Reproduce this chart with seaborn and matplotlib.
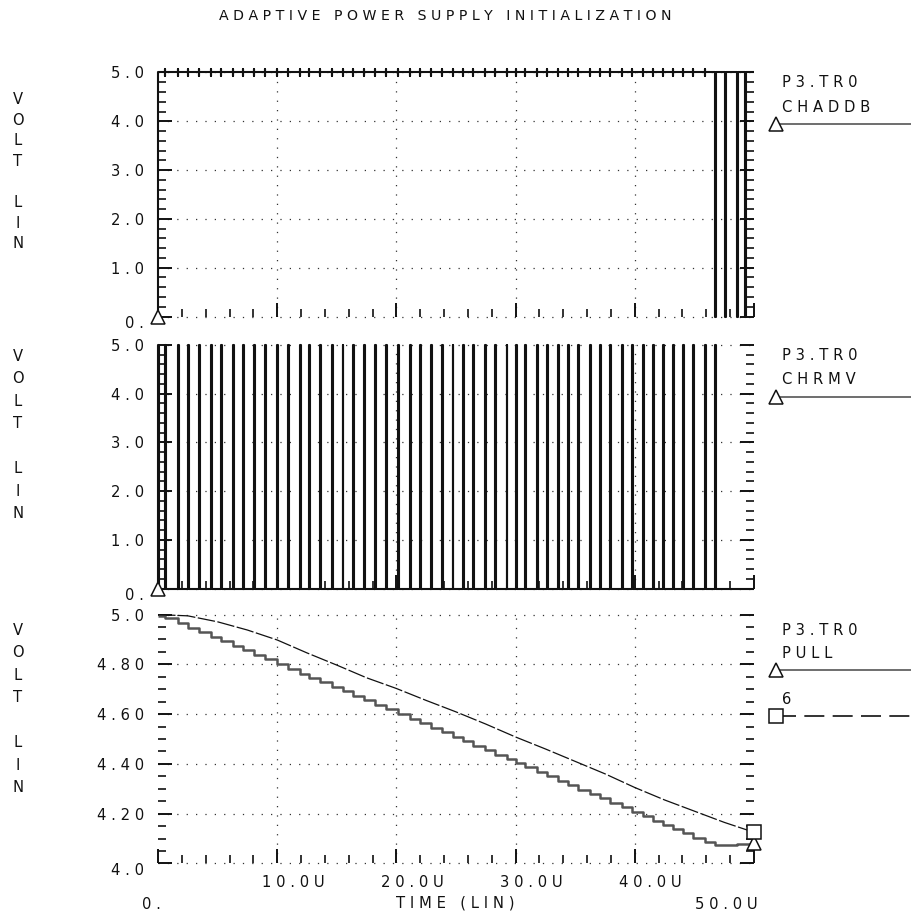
import matplotlib
matplotlib.use("Agg")
import matplotlib.pyplot as plt
import matplotlib.transforms as mtransforms
from matplotlib.lines import Line2D
from matplotlib.ticker import MultipleLocator, FixedLocator
import pandas as pd
import seaborn as sns

# ---------------------------------------------------------------- data
TITLE = "ADAPTIVE POWER SUPPLY INITIALIZATION"
X_LABEL = "TIME (LIN)"
Y_LABEL = "VOLT LIN"
T_START, T_END = 0.0, 50.0          # microseconds
V_HIGH = 5.0

# CHRMV: narrow pulses 0 -> 5 V (instants in us)
chrmv_pulse_t = [0.0, 0.61, 1.65, 2.54, 3.46, 4.45, 5.29, 6.27, 7.16, 8.08, 8.98,
                 9.96, 10.93, 11.91, 12.69, 13.59, 14.57, 15.49, 16.38, 17.31,
                 18.20, 19.13, 20.16, 21.14, 21.98, 22.90, 23.80, 24.72, 25.61,
                 26.45, 27.43, 28.27, 29.25, 30.03, 30.79, 31.77, 32.61, 33.58,
                 34.42, 35.26, 36.24, 37.08, 37.92, 38.90, 39.74, 40.71, 41.55,
                 42.39, 43.23, 44.07, 44.91, 45.89, 46.73]

# CHADDB: sits high with small glitches, then drops to 0 V a few times
chaddb_glitch_t = [0.61, 1.65, 2.54, 3.46, 4.45, 5.29, 6.27, 7.16, 8.08, 8.98,
                   9.96, 10.93, 11.91, 12.69, 13.59, 14.57, 15.49, 16.38, 17.31,
                   18.20, 19.13, 20.16, 21.14, 21.98, 22.90, 23.80, 24.72, 25.61,
                   26.45, 27.43, 28.27, 29.25, 30.03, 30.79, 31.77, 32.61, 33.58,
                   34.42, 35.26, 36.24, 37.08, 37.92, 38.90, 39.74, 40.71, 41.55,
                   42.39, 43.23, 44.07, 44.91, 45.89]
chaddb_drop_t = [46.73, 47.57, 48.55, 49.24]

# PULL: staircase, one step per CHRMV pulse
pull_t = [0.0, 0.61, 1.65, 2.54, 3.46, 4.45, 5.29, 6.27, 7.16, 8.08, 8.98,
          9.96, 10.93, 11.91, 12.69, 13.59, 14.57, 15.49, 16.38, 17.31,
          18.20, 19.13, 20.16, 21.14, 21.98, 22.90, 23.80, 24.72, 25.61,
          26.45, 27.43, 28.27, 29.25, 30.03, 30.79, 31.77, 32.61, 33.58,
          34.42, 35.26, 36.24, 37.08, 37.92, 38.90, 39.74, 40.71, 41.55,
          42.39, 43.23, 44.07, 44.91, 45.89, 46.73, 48.55, 50.0]
pull_v = [4.995, 4.985, 4.965, 4.948, 4.930, 4.910, 4.893, 4.874, 4.856, 4.838,
          4.820, 4.800, 4.782, 4.763, 4.747, 4.729, 4.710, 4.692, 4.674, 4.656,
          4.638, 4.620, 4.600, 4.580, 4.563, 4.545, 4.527, 4.508, 4.490, 4.473,
          4.454, 4.437, 4.418, 4.402, 4.386, 4.367, 4.350, 4.331, 4.314, 4.297,
          4.278, 4.261, 4.244, 4.225, 4.208, 4.189, 4.172, 4.155, 4.138, 4.121,
          4.104, 4.085, 4.074, 4.079, 4.080]

# node 6: smooth discharge
node6_t = [0.0, 2.5, 5.0, 7.5, 10.0, 12.5, 15.0, 17.5, 20.0, 22.5, 25.0,
           27.5, 30.0, 32.5, 35.0, 37.5, 40.0, 42.5, 45.0, 47.5, 50.0]
node6_v = [5.000, 4.995, 4.971, 4.938, 4.898, 4.846, 4.797, 4.746, 4.703,
           4.655, 4.609, 4.560, 4.508, 4.460, 4.410, 4.360, 4.305, 4.255,
           4.210, 4.165, 4.125]

volt_ticks = [0, 1, 2, 3, 4, 5]
volt_labels = ["0.", "1.0", "2.0", "3.0", "4.0", "5.0"]
pull_ticks = [4.0, 4.2, 4.4, 4.6, 4.8, 5.0]
pull_labels = ["4.0", "4.20", "4.40", "4.60", "4.80", "5.0"]
time_ticks = [0, 10, 20, 30, 40, 50]
time_labels = ["0.", "10.0U", "20.0U", "30.0U", "40.0U", "50.0U"]

legend_top = ["P3.TR0", "CHADDB"]
legend_mid = ["P3.TR0", "CHRMV"]
legend_bot = ["P3.TR0", "PULL"]
legend_node = "6"

# ---------------------------------------------------------------- style
sns.set_theme(style="white")
plt.rcParams["font.family"] = ["DejaVu Sans"]
plt.rcParams["lines.solid_capstyle"] = "butt"

W, H = 911, 919
fig = plt.figure(figsize=(W / 100, H / 100), dpi=100)
FS = 10.6
INK = "#111111"
TRACE_GREY = "#555555"


def spaced(s):
    return " ".join(s)


def fx(x):
    return x / W


def fy(y):
    return 1 - y / H


def px_shift(dx, dy):
    return mtransforms.ScaledTranslation(dx / 100, -dy / 100, fig.dpi_scale_trans)


def axes_px(x0, y0, x1, y1):
    return fig.add_axes([fx(x0), fy(y1), fx(x1) - fx(x0), fy(y0) - fy(y1)])


ax1 = axes_px(158, 72.5, 754, 316.5)
ax2 = axes_px(158, 345, 754, 588.5)
ax3 = axes_px(158, 614.6, 754, 863.4)


def frame(ax, ymin, ymax, minor, ticks, labels):
    ax.set_xlim(T_START, T_END)
    ax.set_ylim(ymin, ymax)
    for s in ax.spines.values():
        s.set_visible(False)
    ax.set_facecolor("none")
    ax.xaxis.set_major_locator(FixedLocator(time_ticks))
    ax.xaxis.set_minor_locator(MultipleLocator(2))
    ax.yaxis.set_major_locator(FixedLocator(ticks))
    ax.yaxis.set_minor_locator(MultipleLocator(minor))
    ax.set_yticklabels([spaced(l) for l in labels])
    ax.set_xticklabels([])
    ax.tick_params(which="both", direction="in", left=True, right=True,
                   bottom=True, top=False, labelleft=True, labelright=False,
                   color=INK, labelsize=FS, labelcolor=INK)
    ax.tick_params(which="major", length=10, width=1.4, pad=10)
    ax.tick_params(which="minor", length=6, width=1.2)
    for tl in ax.yaxis.get_majorticklines() + ax.yaxis.get_minorticklines() + \
            ax.xaxis.get_majorticklines() + ax.xaxis.get_minorticklines():
        tl.set_clip_on(False)
    # dotted grid
    for v in ticks:
        ax.axhline(v, color="#333333", lw=0.9, dashes=(1.0, 6.5), clip_on=False, zorder=0)
    for t in time_ticks[1:-1]:
        ax.axvline(t, color="#333333", lw=0.9, dashes=(1.0, 6.5), zorder=0)
    # bottom label sits a little lower
    lab = ax.get_yticklabels()[0]
    lab.set_transform(lab.get_transform() + px_shift(0, 6))


frame(ax1, 0, V_HIGH, 0.2, volt_ticks, volt_labels)
frame(ax2, 0, V_HIGH, 0.2, volt_ticks, volt_labels)
frame(ax3, 4.0, V_HIGH, 0.05, pull_ticks, pull_labels)

pw = 0.07   # width of the narrow pulses, us

# ---------------------------------------------------------------- waveforms
# CHADDB
xs, ys = [T_START, T_START], [0.0, V_HIGH]
for t in chaddb_glitch_t:
    xs += [t, t, t, t]
    ys += [V_HIGH, V_HIGH + 0.07, V_HIGH - 0.07, V_HIGH]
for t in chaddb_drop_t:
    xs += [t, t, t + pw, t + pw]
    ys += [V_HIGH, 0.0, 0.0, V_HIGH]
xs.append(T_END)
ys.append(V_HIGH)
chaddb = pd.DataFrame({"t": xs, "v": ys})
sns.lineplot(data=chaddb, x="t", y="v", ax=ax1, estimator=None, sort=False,
             color=INK, lw=1.5, clip_on=False)

# CHRMV
xs, ys = [], []
for t in chrmv_pulse_t:
    xs += [t, t, t + pw, t + pw]
    ys += [0.0, V_HIGH, V_HIGH, 0.0]
xs.append(T_END)
ys.append(0.0)
chrmv = pd.DataFrame({"t": xs, "v": ys})
sns.lineplot(data=chrmv, x="t", y="v", ax=ax2, estimator=None, sort=False,
             color=INK, lw=1.5, clip_on=False)

# PULL staircase and node 6
pull = pd.DataFrame({"t": pull_t, "v": pull_v})
sns.lineplot(data=pull, x="t", y="v", ax=ax3, estimator=None, sort=False,
             color=TRACE_GREY, lw=1.8, drawstyle="steps-post", clip_on=False)
node6 = pd.DataFrame({"t": node6_t, "v": node6_v})
sns.lineplot(data=node6, x="t", y="v", ax=ax3, estimator=None, sort=False,
             color=INK, lw=0.9, clip_on=False)
ax3.lines[-1].set_dashes((14, 2.0))

# trace markers
mk = dict(ms=10, mfc="white", mec=INK, mew=1.1, clip_on=False, zorder=6, ls="none")
ax1.plot([chaddb["t"].iloc[0]], [chaddb["v"].iloc[0]], marker="^", **mk)
ax2.plot([chrmv["t"].iloc[0]], [chrmv["v"].iloc[0]], marker="^", **mk)
ax3.plot([pull_t[-1]], [pull_v[-1]], marker="^", **mk)
ax3.plot([node6_t[-1]], [node6_v[-1]], marker="s", **mk)

for ax in (ax1, ax2, ax3):
    ax.set_xlabel("")
    ax.set_ylabel("")

# ---------------------------------------------------------------- time axis labels
ax3.set_xticklabels([spaced(l) for l in time_labels])
ax3.tick_params(axis="x", which="major", pad=8)
last = len(time_labels) - 1
for i, lab in enumerate(ax3.get_xticklabels()):
    if i == 0:
        off = px_shift(-7, 22)
    elif i == last:
        off = px_shift(-28, 22)
    else:
        off = px_shift(16, 0)
    lab.set_transform(lab.get_transform() + off)
fig.text(fx(455), fy(903), spaced(X_LABEL), ha="center", va="center",
         fontsize=FS, color=INK)

# ---------------------------------------------------------------- title, axis names
fig.text(fx(445), fy(16), spaced(TITLE), ha="center", va="center",
         fontsize=FS - 0.4, color=INK)
for ytop, ls in ((92, 1.47), (349, 1.62), (623, 1.62)):
    fig.text(fx(18), fy(ytop), "\n".join(Y_LABEL), ha="center", va="top",
             fontsize=FS, color=INK, linespacing=ls)


# ---------------------------------------------------------------- trace legends
def legend_line(y, marker, dashed=False, color=INK):
    ln = Line2D([fx(776), fx(911)], [fy(y), fy(y)], transform=fig.transFigure,
                color=color, lw=1.2)
    if dashed:
        ln.set_dashes((12, 5))
    fig.add_artist(ln)
    fig.add_artist(Line2D([fx(776)], [fy(y)], transform=fig.transFigure,
                          marker=marker, ms=10, mfc="white", mec=INK, mew=1.1,
                          ls="none"))


def legend_text(y, s):
    fig.text(fx(782), fy(y), spaced(s), ha="left", va="center",
             fontsize=FS, color=INK)


legend_text(82.5, legend_top[0])
legend_text(107.5, legend_top[1])
legend_line(124, "^", color=TRACE_GREY)

legend_text(355, legend_mid[0])
legend_text(379.5, legend_mid[1])
legend_line(397, "^", color=TRACE_GREY)

legend_text(630.5, legend_bot[0])
legend_text(653.5, legend_bot[1])
legend_line(670, "^", color=TRACE_GREY)
legend_text(699, legend_node)
legend_line(716, "s", dashed=True)

fig.savefig("out.png", dpi=100, facecolor="white")
